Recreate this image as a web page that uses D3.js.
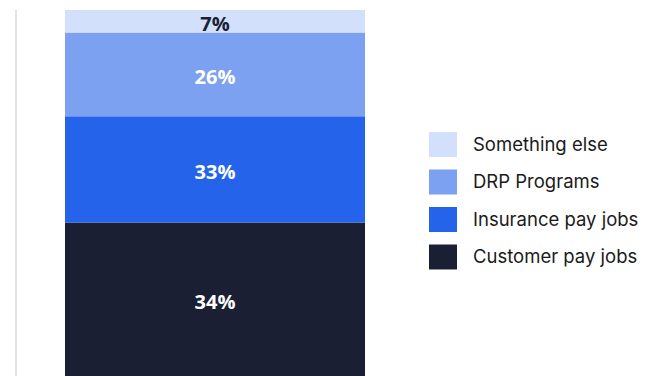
<!DOCTYPE html>
<html>
<head>
<meta charset="utf-8">
<script src="https://cdn.jsdelivr.net/npm/d3@7"></script>
<style>
  html, body { margin: 0; padding: 0; background: #fff; }
  svg { display: block; }
</style>
</head>
<body>
<svg id="chart" width="655" height="376"></svg>
<script>
// Share of jobs by payment type (single 100% stacked column)
const categories = ["Customer pay jobs", "Insurance pay jobs", "DRP Programs", "Something else"];
const shares = [34, 33, 26, 7];
const colors = ["#1a1f33", "#2563eb", "#7ca1f0", "#d3e0fb"];
const labelColors = ["#ffffff", "#ffffff", "#ffffff", "#1a1f33"];
const legendOrder = ["Something else", "DRP Programs", "Insurance pay jobs", "Customer pay jobs"];

const W = 655, H = 376;
const svg = d3.select("#chart");

const row = {};
categories.forEach((c, i) => row[c] = shares[i]);

const stack = d3.stack().keys(categories);
const series = stack([row]);

const x = d3.scaleBand().domain(["all"]).range([65, 365]).padding(0);
const y = d3.scaleLinear().domain([0, 100]).range([332, 10]);
const color = d3.scaleOrdinal().domain(categories).range(colors);
const labelColor = d3.scaleOrdinal().domain(categories).range(labelColors);

// left axis rule
svg.append("line")
  .attr("x1", 16).attr("x2", 16)
  .attr("y1", y(100)).attr("y2", H)
  .attr("stroke", "#e2e2e2").attr("stroke-width", 2);

// base segment runs down to the floor of the plot area
const segTop = d => y(d[0][1]);
const segBottom = d => d[0][0] === 0 ? H : y(d[0][0]);

const seg = svg.append("g").selectAll("g")
  .data(series).join("g");

seg.append("rect")
  .attr("x", x("all"))
  .attr("width", x.bandwidth())
  .attr("y", segTop)
  .attr("height", d => segBottom(d) - segTop(d))
  .attr("fill", d => color(d.key));

seg.append("text")
  .attr("x", x("all") + x.bandwidth() / 2)
  .attr("y", d => (segTop(d) + segBottom(d)) / 2 + 3)
  .attr("dy", "0.35em")
  .attr("text-anchor", "middle")
  .attr("font-family", "'Open Sans', sans-serif")
  .attr("font-weight", 700)
  .attr("font-size", 20)
  .attr("fill", d => labelColor(d.key))
  .text(d => d[0].data[d.key] + "%");

// legend
const legend = svg.append("g").attr("transform", "translate(429,132)");
const item = legend.selectAll("g").data(legendOrder).join("g")
  .attr("transform", (d, i) => `translate(0,${i * 37.5})`);
item.append("rect")
  .attr("width", 28).attr("height", 25)
  .attr("fill", d => color(d));
item.append("text")
  .attr("x", 44).attr("y", 12.5).attr("dy", "0.35em")
  .attr("font-family", "Inter, sans-serif")
  .attr("font-size", 18.5)
  .attr("fill", "#1a1a1a")
  .text(d => d);
</script>
</body>
</html>
